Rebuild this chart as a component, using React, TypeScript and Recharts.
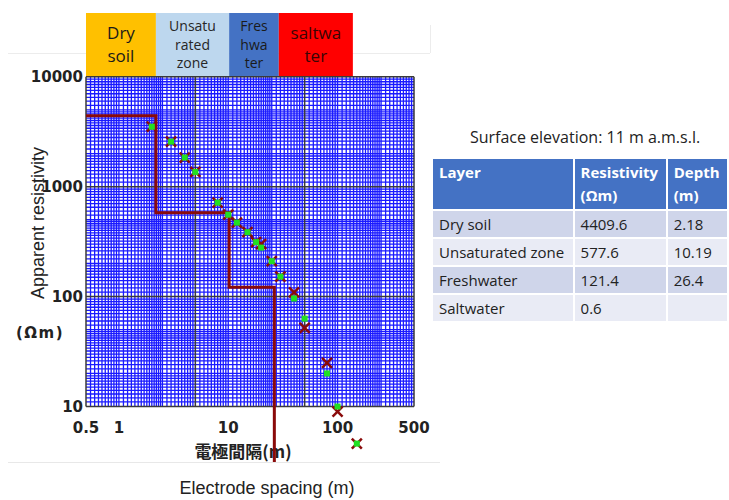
import {
  ComposedChart,
  XAxis,
  YAxis,
  Line,
  Scatter,
  ReferenceLine,
  ReferenceArea,
  ReferenceDot,
} from "recharts";

// axis ranges of the log paper
const X_MIN = 0.5;
const X_MAX = 500;
const Y_MIN = 10;
const Y_MAX = 10000;
// plot area reaches past the paper: header strip above, overflow below
const Y_PLOT_MIN = 3;
const Y_PLOT_MAX = 38000;

const X_TICKS = [0.5, 1, 10, 100, 500];
const Y_TICKS = [10, 100, 1000, 10000];

// sounding curve
const SPACINGS = [2, 3, 4, 5, 8, 10, 12, 15, 18, 20, 25, 30, 40, 50, 80, 100, 150];
const MEASURED = [3510, 2570, 1840, 1360, 716, 556, 471, 385, 313, 300, 210, 152, 109, 52, 25, 9, 4.6];
const MODEL = [3510, 2570, 1840, 1360, 716, 556, 471, 385, 313, 279, 210, 152, 96, 63, 20, 10, 4.6];

// layer model
const LAYER_NAMES = ["Dry soil", "Unsaturated zone", "Freshwater", "Saltwater"];
const LAYER_RESISTIVITY = [4409.6, 577.6, 121.4, 0.6];
const LAYER_DEPTH = [2.18, 10.19, 26.4];

// coloured strip over the paper
const HEADER_LINES = [["Dry", "soil"], ["Unsatu", "rated", "zone"], ["Fres", "hwa", "ter"], ["saltwa", "ter"]];
const HEADER_EDGES = [0.5, 2.18, 10.19, 29, 138];
const HEADER_FILLS = ["#FFC000", "#BDD7EE", "#4472C4", "#FF0000"];
const HEADER_INK = ["#1a1a1a", "#262626", "#1a1a1a", "#3a0505"];

// subdivisions of one decade on the log paper
const SUBDIVISIONS = [
  1.1, 1.2, 1.3, 1.4, 1.5, 1.6, 1.7, 1.8, 1.9,
  2, 2.2, 2.4, 2.6, 2.8, 3, 3.2, 3.4, 3.6, 3.8, 4, 4.2, 4.4, 4.6, 4.8,
  5, 5.5, 6, 6.5, 7, 7.5, 8, 8.5, 9, 9.5,
];
const X_DECADES = [0.5, 5, 50, 500];
const Y_DECADES = [10, 100, 1000, 10000];

const minorX = X_DECADES.slice(0, -1).flatMap((b) => SUBDIVISIONS.map((k) => b * k));
const minorY = Y_DECADES.slice(0, -1).flatMap((b) => SUBDIVISIONS.map((k) => b * k));

const measuredData = SPACINGS.map((x, i) => ({ x, y: MEASURED[i] }));
const modelData = SPACINGS.map((x, i) => ({ x, y: MODEL[i] }));
const stepData = LAYER_RESISTIVITY.map((y, i) => ({ x: i === 0 ? X_MIN : LAYER_DEPTH[i - 1], y }));

const BLUE = "#1a1aff";
const MAJOR = "#3a3a3a";
const MAROON = "#8a0a0a";

function HeaderLabel({ viewBox, lines, color }: any) {
  if (!viewBox) return null;
  const { x, y, width, height } = viewBox;
  const big = lines.length < 3;
  const fs = big ? 17 : 14;
  const lh = big ? 23 : 18.5;
  const start = y + height / 2 - ((lines.length - 1) * lh) / 2 + fs * 0.35;
  return (
    <text textAnchor="middle" fontFamily="'Open Sans', sans-serif" fontSize={fs} fill={color}>
      {lines.map((l: string, i: number) => (
        <tspan key={i} x={x + width / 2} y={start + i * lh}>
          {l}
        </tspan>
      ))}
    </text>
  );
}

function XTickLabel({ viewBox, text }: any) {
  if (!viewBox) return null;
  return (
    <text
      x={viewBox.x + viewBox.width / 2}
      y={viewBox.y + 26}
      textAnchor="middle"
      fontFamily="'DejaVu Sans', sans-serif"
      fontWeight="bold"
      fontSize={15}
      fill="#222"
    >
      {text}
    </text>
  );
}

function XMark(props: any) {
  const { cx, cy } = props;
  const s = 5;
  return (
    <g stroke={MAROON} strokeWidth={2.5}>
      <line x1={cx - s} y1={cy - s} x2={cx + s} y2={cy + s} />
      <line x1={cx - s} y1={cy + s} x2={cx + s} y2={cy - s} />
    </g>
  );
}

function GreenSquare(props: any) {
  const { cx, cy } = props;
  return <rect x={cx - 3} y={cy - 3} width={6} height={6} fill="#22e022" />;
}

const text = (extra: React.CSSProperties): React.CSSProperties => ({
  position: "absolute",
  whiteSpace: "nowrap",
  color: "#222",
  ...extra,
});

export default function App() {
  return (
    <div
      style={{
        position: "absolute",
        left: 0,
        top: 0,
        width: 729,
        height: 500,
        overflow: "hidden",
        background: "#fff",
      }}
    >
      {/* faint edges of the pasted pictures */}
      <div style={{ position: "absolute", left: 8, top: 53, width: 422, height: 1, background: "#ececec" }} />
      <div style={{ position: "absolute", left: 430, top: 25, width: 1, height: 28, background: "#ececec" }} />

      {/* axis titles */}
      <div
        style={text({
          left: 38,
          top: 223,
          transform: "translate(-50%, -50%) rotate(-90deg)",
          fontFamily: "'Liberation Sans', Arial, sans-serif",
          fontSize: 18,
        })}
      >
        Apparent resistivity
      </div>
      <div
        style={text({
          left: 40,
          top: 333,
          transform: "translate(-50%, -50%)",
          fontFamily: "'DejaVu Sans', sans-serif",
          fontWeight: "bold",
          fontSize: 15,
          letterSpacing: 1.5,
        })}
      >
        (Ωm)
      </div>
      <div
        style={text({
          left: 243,
          top: 450,
          transform: "translate(-50%, -50%)",
          fontFamily: "'Noto Sans CJK JP', sans-serif",
          fontWeight: "bold",
          fontSize: 17,
        })}
      >
        電極間隔(m)
      </div>

      <div style={{ position: "absolute", left: 0, top: 0 }}>
        <ComposedChart width={440} height={500} margin={{ top: 13, right: 26, bottom: 36, left: 0 }}>
          <XAxis
            type="number"
            dataKey="x"
            scale="log"
            domain={[X_MIN, X_MAX]}
            allowDataOverflow
            hide
          />
          <YAxis
            type="number"
            dataKey="y"
            scale="log"
            domain={[Y_PLOT_MIN, Y_PLOT_MAX]}
            allowDataOverflow
            ticks={Y_TICKS}
            interval={0}
            width={86}
            axisLine={false}
            tickLine={false}
            tickSize={0}
            tickMargin={3}
            tick={{ fontSize: 15, fontWeight: "bold", fill: "#222", fontFamily: "'DejaVu Sans', sans-serif" }}
          />

          {HEADER_LINES.map((lines, i) => (
            <ReferenceArea
              key={"h" + i}
              x1={HEADER_EDGES[i]}
              x2={HEADER_EDGES[i + 1]}
              y1={Y_MAX}
              y2={Y_PLOT_MAX}
              fill={HEADER_FILLS[i]}
              fillOpacity={1}
              stroke="none"
              label={<HeaderLabel lines={lines} color={HEADER_INK[i]} />}
            />
          ))}

          {minorX.map((v) => (
            <ReferenceLine
              key={"mx" + v}
              segment={[{ x: v, y: Y_MIN }, { x: v, y: Y_MAX }]}
              stroke={BLUE}
              strokeWidth={1.3}
            />
          ))}
          {minorY.map((v) => (
            <ReferenceLine
              key={"my" + v}
              segment={[{ x: X_MIN, y: v }, { x: X_MAX, y: v }]}
              stroke={BLUE}
              strokeWidth={1.3}
            />
          ))}
          {X_DECADES.map((v) => (
            <ReferenceLine
              key={"Mx" + v}
              segment={[{ x: v, y: Y_MIN }, { x: v, y: Y_MAX }]}
              stroke={MAJOR}
              strokeWidth={1.5}
            />
          ))}
          {Y_DECADES.map((v) => (
            <ReferenceLine
              key={"My" + v}
              segment={[{ x: X_MIN, y: v }, { x: X_MAX, y: v }]}
              stroke={MAJOR}
              strokeWidth={1.5}
            />
          ))}

          <Line
            data={stepData}
            type="stepAfter"
            dataKey="y"
            stroke={MAROON}
            strokeWidth={3}
            dot={false}
            isAnimationActive={false}
          />
          <Scatter data={measuredData} dataKey="y" shape={XMark} isAnimationActive={false} />
          <Scatter data={modelData} dataKey="y" shape={GreenSquare} isAnimationActive={false} />

          {X_TICKS.map((v) => (
            <ReferenceDot
              key={"xt" + v}
              x={v}
              y={Y_MIN}
              r={0}
              fill="none"
              stroke="none"
              label={<XTickLabel text={String(v)} />}
            />
          ))}
        </ComposedChart>
      </div>

      {/* bottom caption box */}
      <div
        style={{
          position: "absolute",
          left: 8,
          top: 462,
          width: 432,
          height: 38,
          background: "#fff",
          borderTop: "1px solid #e8e8e8",
        }}
      />
      <div
        style={text({
          left: 267,
          top: 488,
          transform: "translate(-50%, -50%)",
          fontFamily: "'Liberation Sans', Arial, sans-serif",
          fontSize: 18,
        })}
      >
        Electrode spacing (m)
      </div>

      {/* layer table */}
      <div
        style={text({
          left: 585,
          top: 137,
          transform: "translate(-50%, -50%)",
          fontFamily: "'Open Sans', sans-serif",
          fontSize: 16,
        })}
      >
        Surface elevation: 11 m a.m.s.l.
      </div>
      <table
        style={{
          position: "absolute",
          left: 431,
          top: 157,
          borderCollapse: "collapse",
          tableLayout: "fixed",
          fontFamily: "'Open Sans', sans-serif",
          fontSize: 15,
          color: "#222",
        }}
      >
        <colgroup>
          <col style={{ width: 146 }} />
          <col style={{ width: 96 }} />
          <col style={{ width: 64 }} />
        </colgroup>
        <thead>
          <tr style={{ height: 49, background: "#4472C4", color: "#fff", fontWeight: "bold" }}>
            {["Layer", "Resistivity\n(Ωm)", "Depth\n(m)"].map((h) => (
              <th
                key={h}
                style={{
                  textAlign: "left",
                  verticalAlign: "top",
                  padding: "2px 6px",
                  lineHeight: "23px",
                  whiteSpace: "pre",
                  border: "2px solid #fff",
                }}
              >
                {h}
              </th>
            ))}
          </tr>
        </thead>
        <tbody>
          {LAYER_NAMES.map((name, i) => (
            <tr key={name} style={{ height: 28, background: i % 2 === 0 ? "#CFD5EA" : "#E9EBF5" }}>
              {[name, String(LAYER_RESISTIVITY[i]), i < LAYER_DEPTH.length ? String(LAYER_DEPTH[i]) : ""].map(
                (c, j) => (
                  <td
                    key={j}
                    style={{ padding: "0 6px", border: "2px solid #fff", whiteSpace: "nowrap", overflow: "hidden" }}
                  >
                    {c}
                  </td>
                )
              )}
            </tr>
          ))}
        </tbody>
      </table>
    </div>
  );
}
